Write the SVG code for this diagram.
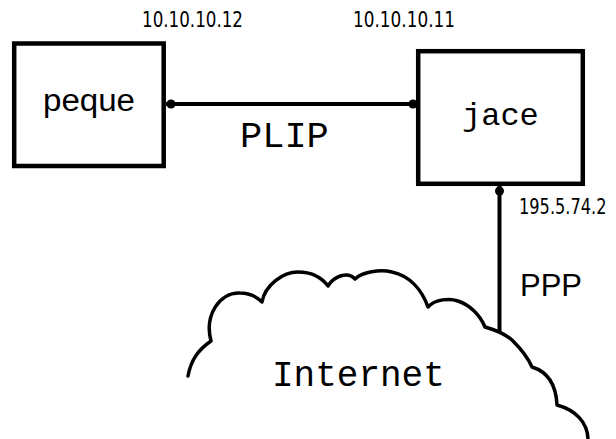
<svg xmlns="http://www.w3.org/2000/svg" width="616" height="439" viewBox="0 0 616 439">
<style>
.box{fill:#fff;stroke:#000;stroke-width:4.5}
.wire{stroke:#000;stroke-width:4;fill:none}
.cloud{fill:none;stroke:#000;stroke-width:3.5;stroke-linejoin:round;stroke-linecap:round}
.ip{font-family:"DejaVu Sans Condensed","DejaVu Sans",sans-serif;font-size:20.5px;fill:#000}
.mono{font-family:"Liberation Mono",monospace;fill:#000}
.sans{font-family:"Liberation Sans",Arial,sans-serif;fill:#000}
</style>
<rect width="616" height="439" fill="#fff"/>
<g id="internet">
<path class="cloud" d="M188,376 C191,360 198,350 211,341 C204,315 220,292 240,293 C250,293 257,297 262,302 C265,285 283,272 298,272 C312,272 322,278 328,286 C334,276 348,271 355,279 C362,272 380,269 392,272 C410,276 422,290 428,307 C435,299 450,298 458,301 C470,305 480,315 485,327 C492,329 505,333 513,341 C522,350 528,358 532,367 C545,371 556,382 557,405 C575,410 588,422 588,440"/>
<text class="mono" x="272" y="386" font-size="36">Internet</text>
</g>
<g id="connectors">
<line class="wire" x1="166" y1="104" x2="416" y2="104"/>
<circle cx="171" cy="104" r="4.5"/>
<circle cx="413" cy="104" r="4.5"/>
<line class="wire" x1="499.5" y1="186" x2="499.5" y2="332"/>
<circle cx="499.5" cy="191" r="4.5"/>
<text class="mono" x="240" y="147" font-size="37">PLIP</text>
<text class="sans" x="520" y="296" font-size="31">PPP</text>
<text class="ip" transform="translate(519,214) scale(1,1.14)" x="0" y="0" style="font-size:18px">195.5.74.2</text>
</g>
<g id="peque">
<rect class="box" x="14.2" y="43.5" width="149.5" height="122.5"/>
<text class="sans" x="43" y="111" font-size="31" textLength="92" lengthAdjust="spacingAndGlyphs">peque</text>
<text class="ip" x="142" y="27" textLength="101" lengthAdjust="spacingAndGlyphs">10.10.10.12</text>
</g>
<g id="jace">
<rect class="box" x="418.2" y="51.2" width="164.6" height="132.6"/>
<text class="mono" x="462" y="125" font-size="32">jace</text>
<text class="ip" x="353" y="27" textLength="102" lengthAdjust="spacingAndGlyphs">10.10.10.11</text>
</g>
</svg>
